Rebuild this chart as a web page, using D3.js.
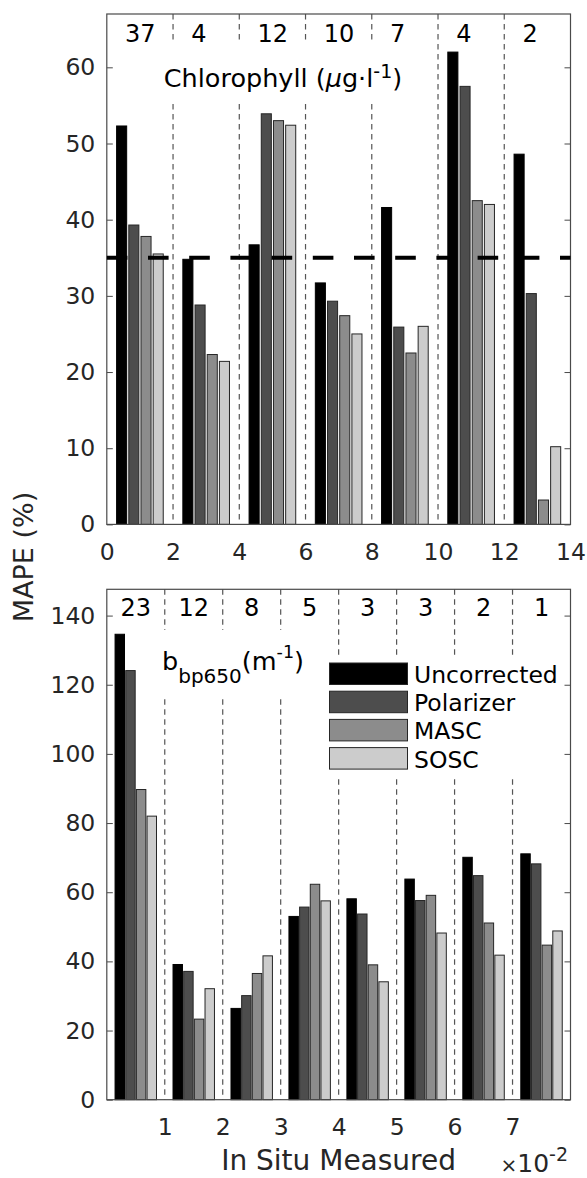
<!DOCTYPE html>
<html>
<head>
<meta charset="utf-8">
<script src="https://cdn.jsdelivr.net/npm/d3@7"></script>
<style>
  html, body { margin: 0; padding: 0; background: #fff; }
  svg { display: block; font-family: "DejaVu Sans", sans-serif; }
</style>
</head>
<body>
<svg id="chart" width="587" height="1178"></svg>
<script>
// ---------- data ----------
const seriesNames = ["Uncorrected", "Polarizer", "MASC", "SOSC"];

// Top panel: Chlorophyll
const chlCategories = [1, 3, 5, 7, 9, 11, 13];
const chlCounts = ["37", "4", "12", "10", "7", "4", "2"];
const chlUncorrected = [52.3, 34.8, 36.7, 31.7, 41.6, 62.0, 48.6];
const chlPolarizer   = [39.3, 28.8, 53.9, 29.3, 25.9, 57.5, 30.3];
const chlMASC        = [37.8, 22.3, 53.0, 27.4, 22.5, 42.5, 3.2];
const chlSOSC        = [35.5, 21.4, 52.4, 25.0, 26.0, 42.0, 10.2];
const chlThreshold = 35;
const chlXTicks = [0, 2, 4, 6, 8, 10, 12, 14];
const chlYTicks = [0, 10, 20, 30, 40, 50, 60];
const chlDividers = [2, 4, 6, 8, 10, 12];

// Bottom panel: bbp650
const bbpCategories = [0.005, 0.015, 0.025, 0.035, 0.045, 0.055, 0.065, 0.075];
const bbpCounts = ["23", "12", "8", "5", "3", "3", "2", "1"];
const bbpUncorrected = [134.6, 39.1, 26.4, 53.0, 58.1, 63.8, 70.1, 71.1];
const bbpPolarizer   = [124.1, 37.1, 30.1, 55.7, 53.7, 57.6, 64.8, 68.2];
const bbpMASC        = [89.7, 23.3, 36.5, 62.3, 39.0, 59.1, 51.1, 44.7];
const bbpSOSC        = [82.0, 32.1, 41.6, 57.5, 34.1, 48.2, 41.8, 48.8];
const bbpXTicks = [0.01, 0.02, 0.03, 0.04, 0.05, 0.06, 0.07];
const bbpYTicks = [0, 20, 40, 60, 80, 100, 120, 140];
const bbpDividers = [0.01, 0.02, 0.03, 0.04, 0.05, 0.06, 0.07];

// ---------- styles ----------
const fills = ["#000000", "#4d4d4d", "#8c8c8c", "#cccccc"];
const edges = ["#000000", "#262626", "#262626", "#262626"];
const axisColor = "#4a4a4a";
const textColor = "#262626";
const tickFont = 23.5;

const svg = d3.select("#chart");
const L = 106.8, R = 570.5;

function panel(opts) {
  const g = svg.append("g");
  const x = d3.scaleLinear().domain(opts.xDomain).range([L, R]);
  const y = d3.scaleLinear().domain(opts.yDomain).range([opts.bottom, opts.top]);
  const spacing = x(opts.categories[1]) - x(opts.categories[0]);
  const pitch = spacing * 0.184, bw = spacing * opts.barFrac;

  // dashed dividers
  g.append("g").selectAll("line").data(opts.dividers).join("line")
    .attr("x1", d => x(d)).attr("x2", d => x(d))
    .attr("y1", opts.top).attr("y2", opts.bottom)
    .attr("stroke", "#555").attr("stroke-width", 1.2)
    .attr("stroke-dasharray", "5.5,4.5");

  // white boxes (text/legend background)
  opts.boxes.forEach(b => {
    g.append("rect").attr("x", b[0]).attr("y", b[1])
      .attr("width", b[2]).attr("height", b[3]).attr("fill", "#fff");
  });

  // bars
  opts.series.forEach((vals, i) => {
    g.append("g").selectAll("rect").data(vals).join("rect")
      .attr("x", (d, j) => x(opts.categories[j]) + (i - 1.5) * pitch - bw / 2)
      .attr("width", bw)
      .attr("y", d => y(d))
      .attr("height", d => y(0) - y(d))
      .attr("fill", fills[i])
      .attr("stroke", edges[i]).attr("stroke-width", 1);
  });

  // axes
  const yAxis = d3.axisLeft(y).tickValues(opts.yTicks).tickSize(-6).tickSizeOuter(0).tickPadding(11.5);
  const ga = g.append("g").attr("transform", `translate(${L},0)`).call(yAxis);
  const yAxisR = d3.axisRight(y).tickValues(opts.yTicks).tickSize(-6).tickSizeOuter(0).tickFormat("");
  const gr = g.append("g").attr("transform", `translate(${R},0)`).call(yAxisR);
  const xAxis = d3.axisBottom(x).tickValues(opts.xTicks).tickSize(0).tickPadding(opts.xPad)
    .tickFormat(opts.xFormat);
  const gx = g.append("g").attr("transform", `translate(0,${opts.bottom})`).call(xAxis);
  [ga, gr, gx].forEach(a => {
    a.select(".domain").remove();
    a.selectAll("line").attr("stroke", axisColor);
    a.selectAll("text").attr("fill", textColor).attr("font-size", tickFont)
      .attr("font-family", "DejaVu Sans, sans-serif");
  });
  // box
  g.append("rect").attr("x", L).attr("y", opts.top)
    .attr("width", R - L).attr("height", opts.bottom - opts.top)
    .attr("fill", "none").attr("stroke", axisColor).attr("stroke-width", 1.2);

  // counts
  g.append("g").selectAll("text").data(opts.counts).join("text")
    .attr("x", (d, j) => x(opts.categories[j]) + opts.countDx)
    .attr("y", opts.countY)
    .attr("text-anchor", opts.countAnchor)
    .attr("font-size", 24).attr("fill", "#000")
    .text(d => d);

  return { g, x, y };
}

// ---------- top panel ----------
const topP = panel({
  xDomain: [0, 14], yDomain: [0, 67], top: 14, bottom: 524.4,
  categories: chlCategories, barFrac: 0.152,
  series: [chlUncorrected, chlPolarizer, chlMASC, chlSOSC],
  dividers: chlDividers, boxes: [[150, 43, 268, 60]],
  xTicks: chlXTicks, yTicks: chlYTicks, xPad: 19, xFormat: d => d,
  counts: chlCounts, countDx: -15, countAnchor: "start", countY: 41.5
});
// threshold line
topP.g.append("line")
  .attr("x1", topP.x(0)).attr("x2", topP.x(14))
  .attr("y1", topP.y(chlThreshold)).attr("y2", topP.y(chlThreshold))
  .attr("stroke", "#000").attr("stroke-width", 4)
  .attr("stroke-dasharray", "20.6,20.6");
// title
const t1 = topP.g.append("text").attr("x", 283).attr("y", 87.3)
  .attr("text-anchor", "middle").attr("font-size", 25.5).attr("fill", "#000");
t1.append("tspan").text("Chlorophyll (");
t1.append("tspan").attr("font-style", "italic").text("μ");
t1.append("tspan").text("g·l");
t1.append("tspan").attr("font-size", 19).attr("dy", -9.5).text("-1");
t1.append("tspan").attr("dy", 9.5).text(")");

// ---------- bottom panel ----------
const botP = panel({
  xDomain: [0, 0.08], yDomain: [0, 147.6], top: 589.3, bottom: 1099.7,
  categories: bbpCategories, barFrac: 0.163,
  series: [bbpUncorrected, bbpPolarizer, bbpMASC, bbpSOSC],
  dividers: bbpDividers, boxes: [[150, 630, 170, 67], [320, 657, 248, 120]],
  xTicks: bbpXTicks, yTicks: bbpYTicks, xPad: 18.3, xFormat: d => Math.round(d * 100),
  counts: bbpCounts, countDx: 0, countAnchor: "middle", countY: 616
});
const t2 = botP.g.append("text").attr("x", 162).attr("y", 670)
  .attr("font-size", 25.5).attr("fill", "#000");
t2.append("tspan").text("b");
t2.append("tspan").attr("font-size", 20).attr("dy", 12.5).text("bp650");
t2.append("tspan").attr("dy", -12.5).text("(m");
t2.append("tspan").attr("font-size", 17.5).attr("dy", -12).text("-1");
t2.append("tspan").attr("dy", 12).text(")");

// legend
const leg = botP.g.append("g");
seriesNames.forEach((name, i) => {
  const y0 = 663 + i * 28.2;
  leg.append("rect").attr("x", 329.5).attr("y", y0).attr("width", 78).attr("height", 21.5)
    .attr("fill", fills[i]).attr("stroke", "#262626").attr("stroke-width", 1);
  leg.append("text").attr("x", 414).attr("y", y0 + 20).attr("font-size", 23.5)
    .attr("fill", "#000").text(name);
});

// axis labels
svg.append("text").attr("transform", "translate(33,557) rotate(-90)")
  .attr("text-anchor", "middle").attr("font-size", 27).attr("fill", textColor)
  .text("MAPE (%)");
svg.append("text").attr("x", 338.6).attr("y", 1169.7)
  .attr("text-anchor", "middle").attr("font-size", 28).attr("fill", textColor)
  .text("In Situ Measured");
const ex = svg.append("text").attr("x", 568).attr("y", 1172)
  .attr("text-anchor", "end").attr("font-size", 25).attr("fill", textColor);
ex.append("tspan").attr("font-size", 20).text("×");
ex.append("tspan").text("10");
ex.append("tspan").attr("font-size", 19).attr("dy", -11).text("-2");
</script>
</body>
</html>
